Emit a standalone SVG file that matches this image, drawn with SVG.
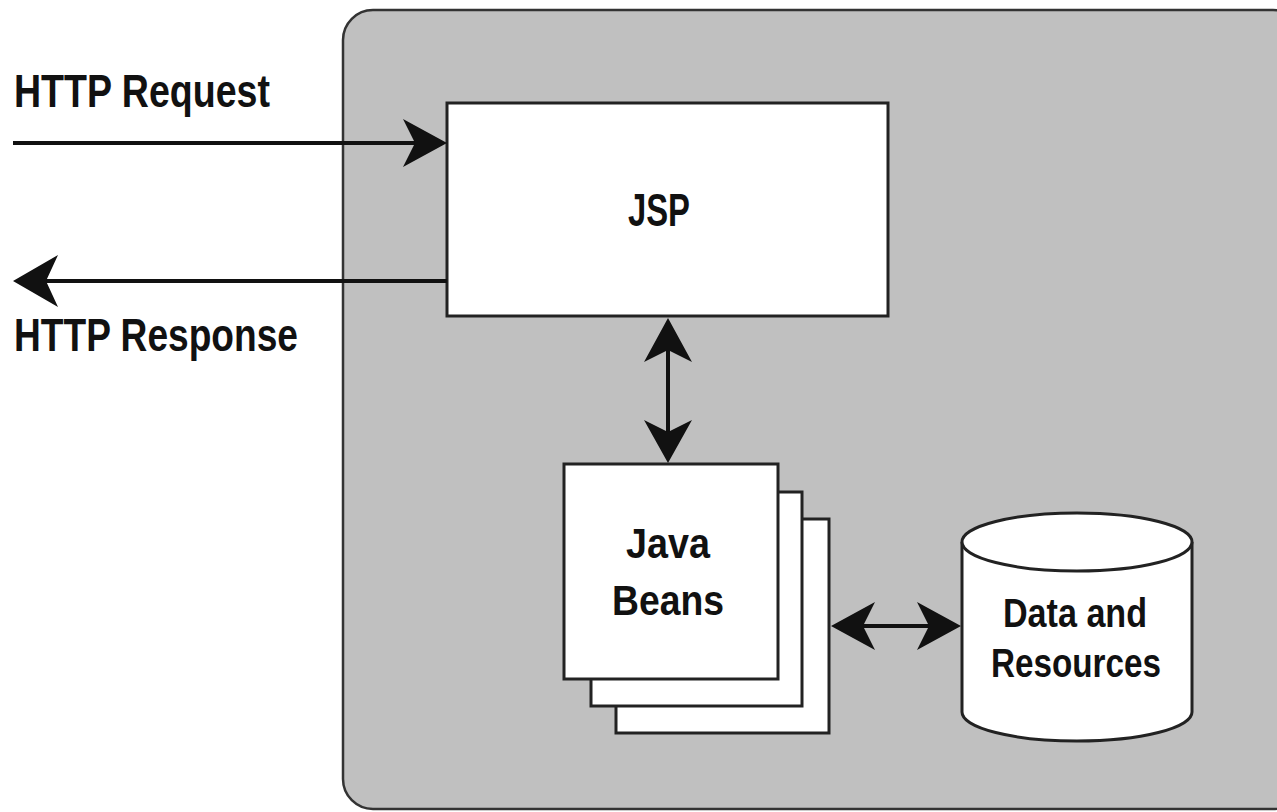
<svg xmlns="http://www.w3.org/2000/svg" width="1277" height="812" viewBox="0 0 1277 812">
<style>
.box{fill:#ffffff;stroke:#222;stroke-width:3}
.lbl{font-family:"Liberation Sans Narrow","Liberation Sans",Arial,sans-serif;font-weight:bold;fill:#111}
.conn{stroke:#111;stroke-width:4;fill:none}
.head{fill:#111;stroke:none}
</style>
<rect width="1277" height="812" fill="#ffffff"/>
<g id="container">
<rect x="343" y="10" width="960" height="799" rx="30" ry="30" fill="#c0c0c0" stroke="#333" stroke-width="2.5"/>
</g>
<g id="http-labels">
<text class="lbl" x="14" y="107" font-size="46" textLength="256" lengthAdjust="spacingAndGlyphs">HTTP Request</text>
<text class="lbl" x="14" y="351" font-size="46" textLength="284" lengthAdjust="spacingAndGlyphs">HTTP Response</text>
</g>
<g id="jsp">
<rect class="box" x="447" y="103" width="441" height="213"/>
<text class="lbl" x="659" y="226" font-size="46" text-anchor="middle" textLength="62" lengthAdjust="spacingAndGlyphs">JSP</text>
</g>
<g id="beans">
<rect class="box" x="616" y="519" width="213" height="214"/>
<rect class="box" x="591" y="492" width="211" height="214"/>
<rect class="box" x="564" y="464" width="214" height="215"/>
<text class="lbl" x="668" y="558" font-size="43" text-anchor="middle" textLength="84" lengthAdjust="spacingAndGlyphs">Java</text>
<text class="lbl" x="668" y="615" font-size="43" text-anchor="middle" textLength="112" lengthAdjust="spacingAndGlyphs">Beans</text>
</g>
<g id="data">
<path class="box" d="M962,542 L962,712 A115,29 0 0 0 1192,712 L1192,542"/>
<ellipse class="box" cx="1077" cy="542" rx="115" ry="29"/>
<text class="lbl" x="1075" y="627" font-size="41" text-anchor="middle" textLength="144" lengthAdjust="spacingAndGlyphs">Data and</text>
<text class="lbl" x="1076" y="677" font-size="41" text-anchor="middle" textLength="170" lengthAdjust="spacingAndGlyphs">Resources</text>
</g>
<g id="connectors">
<line class="conn" x1="13" y1="143" x2="420" y2="143"/>
<path class="head" d="M447,143 L403,119 L415,143 L403,167 Z"/>
<line class="conn" x1="447" y1="281" x2="40" y2="281"/>
<path class="head" d="M13,281 L58,255 L46,281 L58,307 Z"/>
<line class="conn" x1="668" y1="345" x2="668" y2="440"/>
<path class="head" d="M668,318 L644,362 L668,350 L692,362 Z"/>
<path class="head" d="M668,463 L644,420 L668,432 L692,420 Z"/>
<line class="conn" x1="855" y1="626" x2="935" y2="626"/>
<path class="head" d="M831,626 L875,602 L863,626 L875,650 Z"/>
<path class="head" d="M961,626 L917,602 L929,626 L917,650 Z"/>
</g>
</svg>
